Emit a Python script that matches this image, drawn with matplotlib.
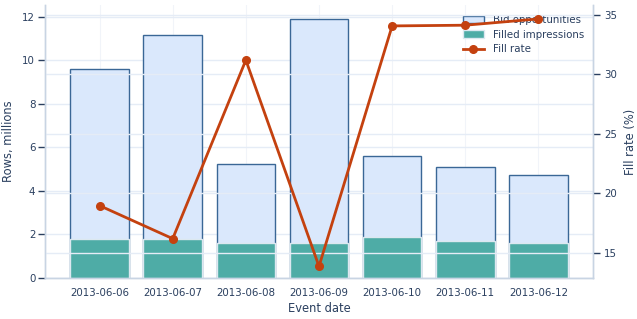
import matplotlib
matplotlib.use("Agg")
import matplotlib.pyplot as plt
from matplotlib.lines import Line2D
from matplotlib.patches import Patch
import numpy as np

dates = ["2013-06-06", "2013-06-07", "2013-06-08", "2013-06-09",
         "2013-06-10", "2013-06-11", "2013-06-12"]
bid_opportunities = [9.59, 11.16, 5.22, 11.88, 5.60, 5.08, 4.75]
filled_impressions = [1.79, 1.78, 1.59, 1.62, 1.88, 1.71, 1.62]
fill_rate = [18.96, 16.18, 31.2, 13.85, 34.08, 34.14, 34.67]

plt.rcParams['font.family'] = ['DejaVu Sans']
text_color = "#2a3f5f"
axis_line = "#c8d4e3"
grid_color = "#e5ecf6"

fig = plt.figure(figsize=(6.37, 3.19), dpi=100)
ax = fig.add_axes([45/637, 41/319, 548/637, 273/319])
ax2 = ax.twinx()

x = np.arange(len(dates))
ax.bar(x, bid_opportunities, width=0.8, color="#dae8fc", edgecolor="#3a6796",
       linewidth=1.0, zorder=2)
ax.bar(x, filled_impressions, width=0.8, color="#4eaca6", edgecolor="#dce8f0",
       linewidth=1.0, zorder=3)

ax.set_xlim(-0.746, 6.746)
ax.set_ylim(0, 12.54)
ax.set_yticks([0, 2, 4, 6, 8, 10, 12])
ax.set_xticks(x)
ax.set_xticklabels(dates)

ax2.plot(x, fill_rate, color="#c4410f", linewidth=2.0, marker="o",
         markersize=5.5, zorder=5)
ax2.set_ylim(12.87, 35.84)
ax2.set_yticks([15, 20, 25, 30, 35])

# grids
ax.set_axisbelow(True)
ax.grid(axis="y", color=grid_color, linewidth=1.0, zorder=0)
ax.grid(axis="x", color="#f1f4f9", linewidth=0.8, zorder=0)
for v in [15, 20, 25, 30, 35]:
    ax2.axhline(v, color=grid_color, linewidth=1.0, zorder=0)
ax2.set_zorder(ax.get_zorder() + 1)
ax2.patch.set_visible(False)

for a in (ax, ax2):
    for s in a.spines.values():
        s.set_color(axis_line)
        s.set_linewidth(1.0)
    a.spines['top'].set_visible(False)
ax.tick_params(axis="y", colors=text_color, labelsize=7.4, length=5, width=1, pad=2)
ax2.tick_params(axis="y", colors=text_color, labelsize=7.4, length=5, width=1, pad=3)
ax.tick_params(axis="x", colors=text_color, labelsize=7.4, length=0, pad=7)
for lbl in ax.get_yticklabels() + ax2.get_yticklabels() + ax.get_xticklabels():
    lbl.set_color(text_color)

ax.set_ylabel("Rows, millions", color=text_color, fontsize=8.3, labelpad=5)
ax2.set_ylabel("Fill rate (%)", color=text_color, fontsize=8.3, labelpad=5)
ax.set_xlabel("Event date", color=text_color, fontsize=8.3, labelpad=3)

handles = [
    Patch(facecolor="#dae8fc", edgecolor="#3a6796", linewidth=1.0),
    Patch(facecolor="#4eaca6", edgecolor="#dce8f0", linewidth=1.0),
    Line2D([0], [0], color="#c4410f", linewidth=2.0, marker="o", markersize=5.5),
]
leg = ax.legend(handles, ["Bid opportunities", "Filled impressions", "Fill rate"],
                loc="upper left", bbox_to_anchor=(463/637, 1 - 15/319),
                bbox_transform=fig.transFigure, frameon=False,
                fontsize=7.35, labelcolor=text_color, handlelength=2.05,
                handletextpad=0.85, borderaxespad=0, borderpad=0,
                labelspacing=0.45)
leg.set_zorder(4)

fig.savefig("out.png", dpi=100)
